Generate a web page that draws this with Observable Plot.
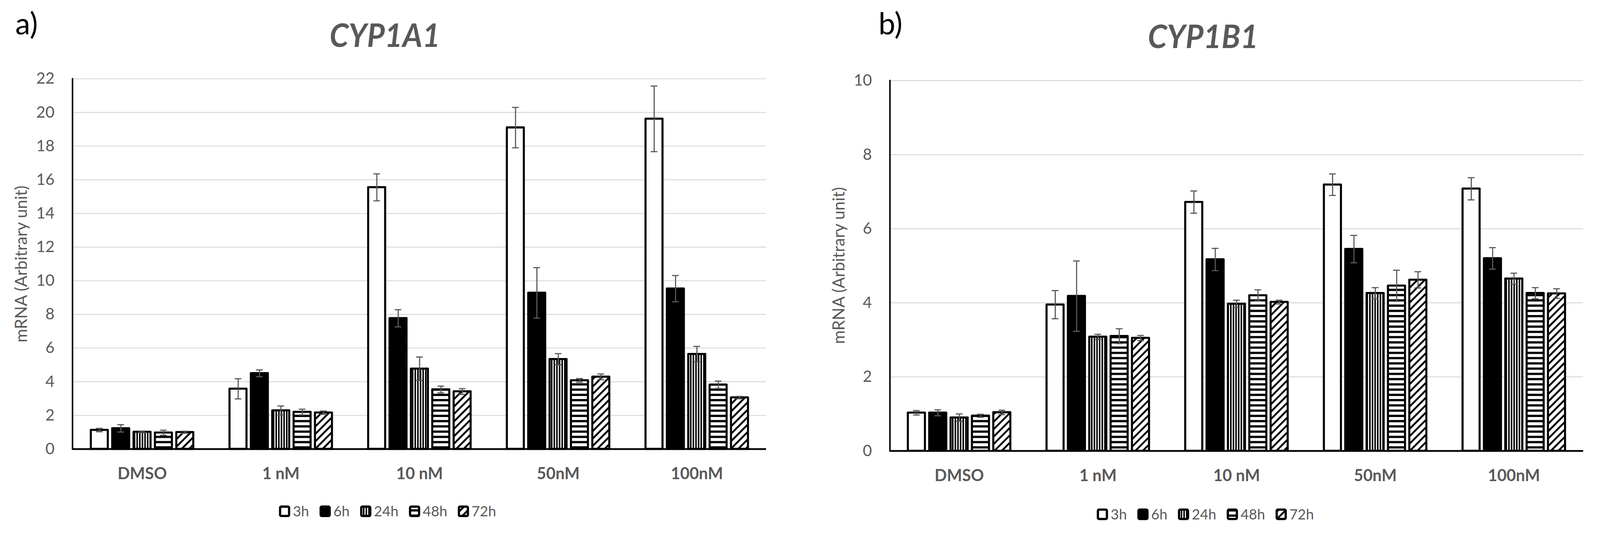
<!DOCTYPE html>
<html>
<head>
<meta charset="utf-8">
<script src="https://cdn.jsdelivr.net/npm/d3@7"></script>
<script src="https://cdn.jsdelivr.net/npm/@observablehq/plot@0.6"></script>
<style>
html, body { margin: 0; padding: 0; background: #fff; overflow: hidden; }
#wrap { position: relative; width: 4269px; height: 1420px; overflow: hidden; background: #fff; font-family: Lato, "Open Sans", sans-serif; transform-origin: 0 0; }
#wrap > svg { position: absolute; top: 0; }
</style>
</head>
<body>
<svg width="0" height="0" style="position:absolute">
  <defs>
    <pattern id="pat24" patternUnits="userSpaceOnUse" width="7" height="10">
      <rect width="7" height="10" fill="#fff"/>
      <rect x="0" width="4" height="10" fill="#000"/>
    </pattern>
    <pattern id="pat48" patternUnits="userSpaceOnUse" width="10" height="14">
      <rect width="10" height="14" fill="#fff"/>
      <rect y="0" width="10" height="6" fill="#000"/>
    </pattern>
    <pattern id="pat72" patternUnits="userSpaceOnUse" width="14" height="14" patternTransform="rotate(45)">
      <rect width="14" height="14" fill="#fff"/>
      <rect x="0" width="5" height="14" fill="#000"/>
    </pattern>
  </defs>
</svg>
<div id="wrap"></div>
<script>
// ---------------- data ----------------
const categories = ["DMSO", "1 nM", "10 nM", "50nM", "100nM"];
const series = ["3h", "6h", "24h", "48h", "72h"];

// CYP1A1 means (rows: categories, columns: series)
const cyp1a1Values = [
  [1.13, 1.23, 1.02, 0.97, 1.00],
  [3.58, 4.50, 2.29, 2.20, 2.16],
  [15.55, 7.77, 4.77, 3.54, 3.42],
  [19.10, 9.28, 5.34, 4.08, 4.29],
  [19.62, 9.53, 5.64, 3.82, 3.06]
];
const cyp1a1Errors = [
  [0.10, 0.22, 0.05, 0.15, 0.06],
  [0.60, 0.20, 0.27, 0.17, 0.10],
  [0.80, 0.51, 0.70, 0.20, 0.17],
  [1.20, 1.50, 0.33, 0.11, 0.17],
  [1.95, 0.78, 0.46, 0.22, 0.07]
];

// CYP1B1 means
const cyp1b1Values = [
  [1.03, 1.03, 0.90, 0.95, 1.04],
  [3.95, 4.18, 3.08, 3.10, 3.05],
  [6.72, 5.17, 3.97, 4.20, 4.02],
  [7.19, 5.45, 4.26, 4.46, 4.62],
  [7.08, 5.20, 4.65, 4.26, 4.25]
];
const cyp1b1Errors = [
  [0.06, 0.08, 0.10, 0.04, 0.06],
  [0.38, 0.95, 0.07, 0.20, 0.07],
  [0.30, 0.30, 0.10, 0.15, 0.05],
  [0.29, 0.37, 0.15, 0.42, 0.22],
  [0.30, 0.29, 0.15, 0.15, 0.13]
];

const yTicksA = [0, 2, 4, 6, 8, 10, 12, 14, 16, 18, 20, 22];
const yTicksB = [0, 2, 4, 6, 8, 10];

const yTitle = "mRNA (Arbitrary unit)";
// --------------------------------------

const fills = ["#fff", "#000", "url(#pat24)", "url(#pat48)", "url(#pat72)"];
const gray = "#595959";
const wrap = document.getElementById("wrap");

// fit the 4269x1420 drawing into whatever viewport the page gets
const fit = Math.min(window.innerWidth / 4269, window.innerHeight / 1420);
if (fit > 0 && Math.abs(fit - 1) > 0.002) wrap.style.transform = `scale(${fit})`;

function panel({values, errors, yTicks, left, width, height, marginLeft, marginRight, marginTop, marginBottom}) {
  const rows = categories.flatMap((c, ci) => series.map((s, si) => ({cat: c, series: s, value: values[ci][si], err: errors[ci][si]})));
  const bw = (width - marginLeft - marginRight) / categories.length;
  const barStep = bw * 0.154, barW = bw * 0.123;
  const inset = (bw - barW) / 2, capInset = bw / 2 - 9;
  const marks = [Plot.ruleY(yTicks.slice(1), {stroke: "#d9d9d9", strokeWidth: 2.5})];
  series.forEach((s, si) => {
    const d = rows.filter(r => r.series === s);
    const dx = (si - 2) * barStep;
    marks.push(Plot.barY(d, {x: "cat", y: "value", fill: fills[si], stroke: "#000", strokeWidth: 5.5,
      strokeLinejoin: "round", insetLeft: inset, insetRight: inset, dx}));
  });
  marks.push(Plot.ruleY([0], {stroke: "#000", strokeWidth: 4.5}));
  marks.push(Plot.frame({anchor: "left", stroke: "#000", strokeWidth: 4}));
  series.forEach((s, si) => {
    const d = rows.filter(r => r.series === s);
    const dx = (si - 2) * barStep;
    marks.push(Plot.ruleX(d, {x: "cat", y1: r => r.value - r.err, y2: r => r.value + r.err, dx, stroke: gray, strokeWidth: 3}));
    marks.push(Plot.tickY(d, {x: "cat", y: r => r.value + r.err, dx, insetLeft: capInset, insetRight: capInset, stroke: gray, strokeWidth: 3}));
    marks.push(Plot.tickY(d, {x: "cat", y: r => r.value - r.err, dx, insetLeft: capInset, insetRight: capInset, stroke: gray, strokeWidth: 3}));
  });
  marks.push(Plot.axisX({tickSize: 0, tickPadding: 50, fontSize: 43, fontWeight: "bold", fill: gray, label: null}));
  marks.push(Plot.axisY({ticks: yTicks, tickSize: 0, tickPadding: 48, fontSize: 42, fill: gray, label: null, tickFormat: d3.format("d")}));
  const svg = Plot.plot({
    width, height, marginLeft, marginRight, marginTop, marginBottom,
    style: "background: transparent; max-width: none; font-family: Lato, 'Open Sans', sans-serif; color: #595959;",
    x: {type: "band", domain: categories, padding: 0, axis: null},
    y: {domain: [0, yTicks[yTicks.length - 1]], axis: null},
    marks
  });
  svg.style.left = left + "px";
  wrap.appendChild(svg);
}

panel({values: cyp1a1Values, errors: cyp1a1Errors, yTicks: yTicksA, left: 0, width: 2134, height: 1310,
  marginLeft: 193, marginRight: 90, marginTop: 209.6, marginBottom: 113});
panel({values: cyp1b1Values, errors: cyp1b1Errors, yTicks: yTicksB, left: 2134, width: 2135, height: 1310,
  marginLeft: 240, marginRight: 45, marginTop: 214.5, marginBottom: 108});

// overlay: panel letters, titles, y titles, legends
const ov = d3.select(wrap).append("svg")
  .attr("width", 4269).attr("height", 1420)
  .style("left", "0px").style("pointer-events", "none")
  .style("font-family", "Lato, 'Open Sans', sans-serif");

ov.append("text").attr("x", 41).attr("y", 92).attr("font-size", 80).attr("fill", "#000").text("a)");
ov.append("text").attr("x", 2344).attr("y", 92).attr("font-size", 80).attr("fill", "#000").text("b)");

ov.append("text").attr("x", 1027).attr("y", 125).attr("text-anchor", "middle")
  .attr("font-size", 86).attr("font-weight", "bold").attr("font-style", "italic").attr("fill", gray)
  .attr("textLength", 295).attr("lengthAdjust", "spacingAndGlyphs").text("CYP1A1");
ov.append("text").attr("x", 3210).attr("y", 128).attr("text-anchor", "middle")
  .attr("font-size", 86).attr("font-weight", "bold").attr("font-style", "italic").attr("fill", gray)
  .attr("textLength", 295).attr("lengthAdjust", "spacingAndGlyphs").text("CYP1B1");

ov.append("text").attr("transform", "translate(72,704) rotate(-90)").attr("text-anchor", "middle")
  .attr("font-size", 44).attr("fill", gray).text(yTitle);
ov.append("text").attr("transform", "translate(2253,708) rotate(-90)").attr("text-anchor", "middle")
  .attr("font-size", 44).attr("fill", gray).text(yTitle);

function legend(cx, top) {
  const g = ov.append("g");
  let x = 0;
  series.forEach((s, si) => {
    g.append("rect").attr("x", x + 3).attr("y", top + 3).attr("width", 24).attr("height", 25).attr("rx", 3)
      .attr("fill", fills[si]).attr("stroke", "#000").attr("stroke-width", 6);
    const t = g.append("text").attr("x", x + 37).attr("y", top + 29).attr("font-size", 38).attr("fill", gray).text(s);
    const w = t.node().getComputedTextLength();
    x += 37 + w + 28;
  });
  const total = x - 28;
  g.attr("transform", `translate(${cx - total / 2},0)`);
}
legend(1034, 1348);
legend(3216, 1356);
</script>
</body>
</html>
